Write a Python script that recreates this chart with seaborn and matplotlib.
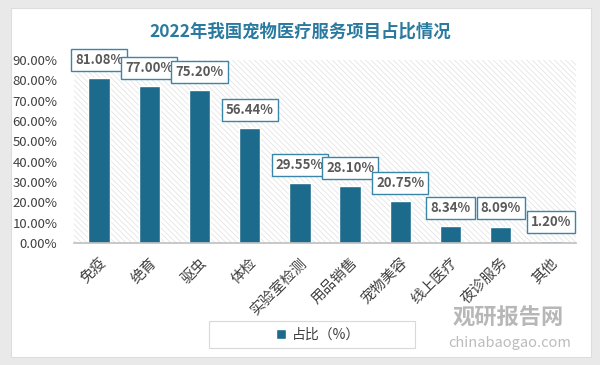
import matplotlib
matplotlib.use("Agg")
import matplotlib.pyplot as plt
import seaborn as sns
import pandas as pd
from matplotlib.patches import Rectangle
from matplotlib.ticker import FuncFormatter

# data
categories = ["免疫", "绝育", "驱虫", "体检", "实验室检测", "用品销售", "宠物美容", "线上医疗", "夜诊服务", "其他"]
shares = [81.08, 77.00, 75.20, 56.44, 29.55, 28.10, 20.75, 8.34, 8.09, 1.20]
title = "2022年我国宠物医疗服务项目占比情况"
series_name = "占比（%）"

bar_color = "#1c6a8c"
title_color = "#2a7aa0"

sns.set_theme(style="white")
plt.rcParams["font.family"] = ["Noto Sans CJK SC", "DejaVu Sans"]
plt.rcParams["hatch.linewidth"] = 0.5

df = pd.DataFrame({"category": categories, "share": shares})

fig = plt.figure(figsize=(6, 3.65), dpi=100)
fig.patch.set_facecolor("#e9e9e9")
# white card
fig.patches.append(Rectangle((11 / 600, 1 - 357 / 365), 580 / 600, 349 / 365,
                             transform=fig.transFigure, facecolor="white",
                             edgecolor="#dddddd", lw=0.8, zorder=-10))

ax = fig.add_axes([74 / 600, 1 - 243 / 365, 502 / 600, 183 / 365])
ax.set_facecolor("none")
ax.add_patch(Rectangle((0, 0), 1, 1, transform=ax.transAxes, facecolor="white",
                       hatch="\\\\\\\\\\\\", edgecolor="#e0e0e0", lw=0, zorder=0))

sns.barplot(data=df, x="category", y="share", color=bar_color, width=0.43,
            saturation=1, ax=ax, zorder=2)

ax.set_ylim(0, 90)
ax.set_xlim(-0.5, len(categories) - 0.5)
ax.set_yticks(range(0, 91, 10))
ax.yaxis.set_major_formatter(FuncFormatter(lambda v, p: f"{v:.2f}%"))
ax.tick_params(axis="y", labelsize=9.5, labelcolor="#404040", length=0, pad=12)
ax.tick_params(axis="x", labelsize=10.5, labelcolor="#404040", length=0, pad=9)
for lab in ax.get_xticklabels():
    lab.set_rotation(45)
    lab.set_ha("right")
    lab.set_rotation_mode("anchor")
ax.set_xlabel("")
ax.set_ylabel("")
for s in ["top", "right", "left"]:
    ax.spines[s].set_visible(False)
ax.spines["bottom"].set_color("#bfbfbf")
ax.spines["bottom"].set_linewidth(1.2)
ax.grid(False)

for i, v in enumerate(shares):
    ax.annotate(f"{v:.2f}%", xy=(i, v), xytext=(0, 8), textcoords="offset points",
                ha="center", va="bottom", fontsize=9.5, fontweight="bold",
                color="#595959", zorder=4,
                bbox=dict(boxstyle="square,pad=0.3", facecolor="white",
                          edgecolor="#3a86a8", lw=1))

fig.text(0.5, 1 - 32 / 365, title, ha="center", va="center", fontsize=12.5,
         fontweight="bold", color=title_color)

# legend box
fig.patches.append(Rectangle((209 / 600, 1 - 348 / 365), 206 / 600, 27 / 365,
                             transform=fig.transFigure, facecolor="white",
                             edgecolor="#d9d9d9", lw=0.8, zorder=-5))
handle = Rectangle((0, 0), 1, 1, facecolor=bar_color)
fig.legend([handle], [series_name], loc="center", bbox_to_anchor=(318 / 600, 1 - 334.5 / 365),
           frameon=False, fontsize=10, handlelength=0.7, handleheight=0.7,
           handletextpad=0.4, labelcolor="#404040")

# watermark
fig.text(453 / 600, 1 - 318 / 365, "观研报告网", ha="left", va="center", fontsize=16,
         fontweight="bold", color="#b0b0b0", alpha=0.9)
fig.text(448 / 600, 1 - 343 / 365, "chinabaogao.com", ha="left", va="center", fontsize=10.5,
         color="#b5b5b5", alpha=0.9)

fig.savefig("out.png", dpi=100, facecolor=fig.get_facecolor())
